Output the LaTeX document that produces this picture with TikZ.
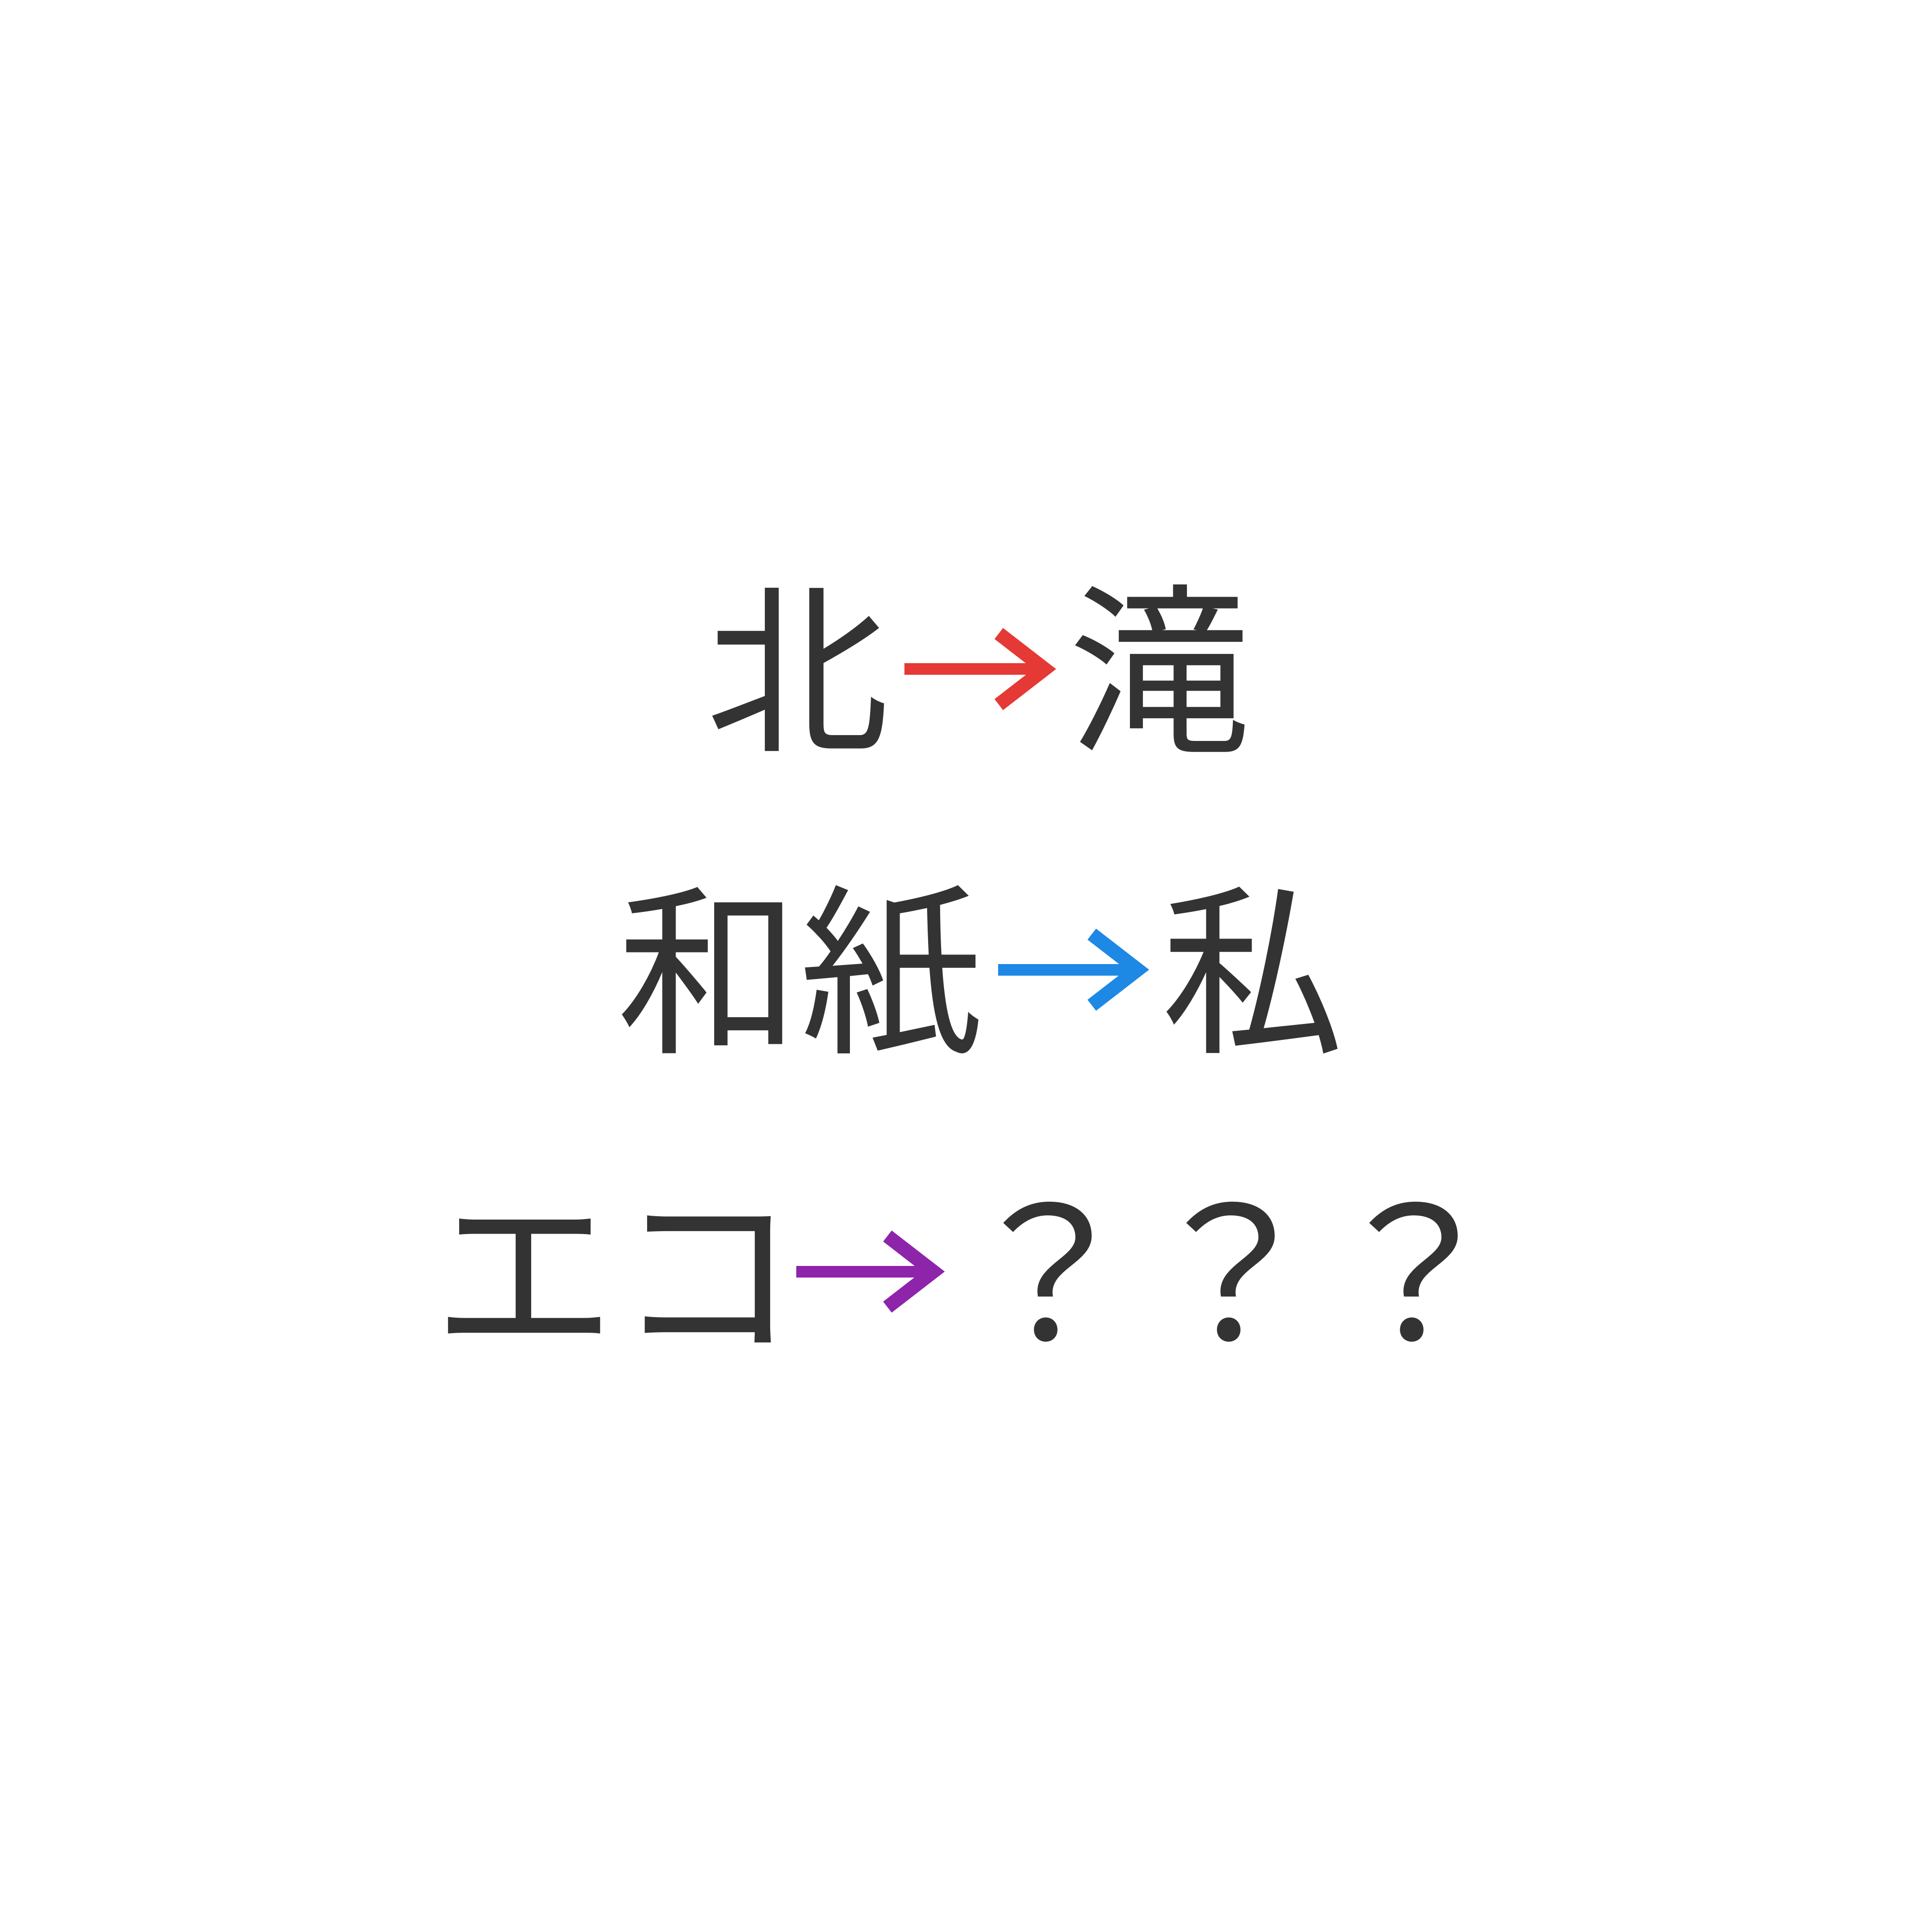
\documentclass[tikz,border=0pt]{standalone}
\usepackage{fontspec}
\usepackage{tikz}
\usetikzlibrary{arrows.meta}
\newfontfamily\jpfont{Noto Sans CJK JP}
\definecolor{ink}{HTML}{333333}
\definecolor{redarr}{HTML}{E53935}
\definecolor{bluearr}{HTML}{1E88E5}
\definecolor{purparr}{HTML}{8E24AA}

\begin{document}
\begin{tikzpicture}
  [x=0.01cm,y=0.01cm,
   every node/.style={inner sep=0pt,outer sep=0pt,text=ink,
     font=\jpfont\fontsize{42.2}{50}\selectfont,
     text height=37.1pt,text depth=5.1pt},
   arr/.style={line width=2.65pt,shorten <=12.5*0.2845pt,shorten >=10*0.2845pt,
     -{Straight Barb[length=10.6pt,width=16.4pt,line width=3.2pt]}}]

  \fill[white] (0,0) rectangle (1568,1568);
  \useasboundingbox (0,0) rectangle (1568,1568);

  \node (hoku) at (647.5,1025) {北};
  \node (taki) at (941.5,1025) {滝};
  \node (washi) at (649.5,781) {和紙};
  \node (watashi) at (1017,781) {私};
  \node (eco) at (500,536) {エコ};
  \node (hatena) at (999.5,536) {？？？};

  \draw[arr,redarr] (hoku) -- (taki);
  \draw[arr,bluearr] (washi) -- (watashi);
  \draw[arr,purparr,shorten <=-2*0.2845pt] (eco) -- (hatena);
\end{tikzpicture}
\end{document}
